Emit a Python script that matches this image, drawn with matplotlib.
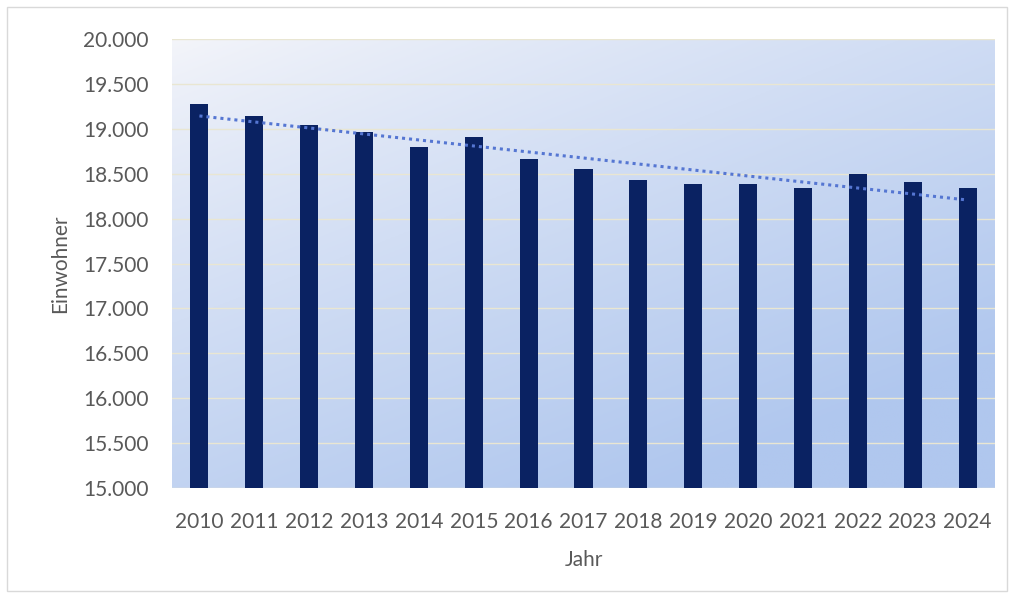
import numpy as np
import matplotlib.pyplot as plt
from matplotlib.patches import Rectangle

# Einwohner je Jahr
jahre = ['2010', '2011', '2012', '2013', '2014', '2015', '2016', '2017',
         '2018', '2019', '2020', '2021', '2022', '2023', '2024']
einwohner = [19280, 19140, 19040, 18965, 18800, 18910, 18665, 18550,
             18425, 18380, 18385, 18340, 18495, 18410, 18340]
y_ticks = list(range(15000, 20001, 500))

plt.rcParams['font.family'] = ['Lato', 'DejaVu Sans']

fig = plt.figure(figsize=(10.15, 5.98), dpi=100)
fig.patch.set_facecolor('white')
fig.patches.append(Rectangle((7 / 1015, 7 / 598), 1000 / 1015, 584 / 598,
                             transform=fig.transFigure, fill=False,
                             edgecolor='#d9d9d9', linewidth=1))

ax = fig.add_axes([172 / 1015, 1 - 488 / 598, 823 / 1015, 449 / 598])

# Hintergrundverlauf (oben links hell, unten/rechts blau)
gx, gy = np.meshgrid(np.linspace(0, 1, 200), np.linspace(0, 1, 200))
t = np.clip(0.7 * gy + 0.5 * gx, 0, 1) ** 0.85
top = np.array([244, 245, 250]) / 255
bot = np.array([176, 199, 238]) / 255
grad = top + (bot - top) * t[..., None]
ax.imshow(grad, extent=[-0.5, len(jahre) - 0.5, 15000, 20000],
          aspect='auto', zorder=0, origin='upper')

x = np.arange(len(jahre))
ax.bar(x, einwohner, width=0.33, color='#0a2262', zorder=3)

# linearer Trend
k, d = np.polyfit(x, einwohner, 1)
ax.plot(x, k * x + d, linestyle=(0, (1, 1.3)), color='#5576d2',
        linewidth=2.2, zorder=4)

ax.set_xlim(-0.5, len(jahre) - 0.5)
ax.set_ylim(15000, 20000)
ax.set_yticks(y_ticks)
ax.set_yticklabels([f'{v:,}'.replace(',', '.') for v in y_ticks])
ax.set_xticks(x)
ax.set_xticklabels(jahre)
ax.grid(axis='y', color='#e9e6d2', linewidth=1, zorder=1)
for s in ax.spines.values():
    s.set_visible(False)
ax.tick_params(length=0, labelsize=15, colors='#595959')
ax.tick_params(axis='y', pad=17)
ax.tick_params(axis='x', pad=17)

ax.set_ylabel('Einwohner', fontsize=15, color='#595959', labelpad=9)
ax.set_xlabel('Jahr', fontsize=15, color='#595959', labelpad=13)

fig.savefig('out.png', dpi=100)
